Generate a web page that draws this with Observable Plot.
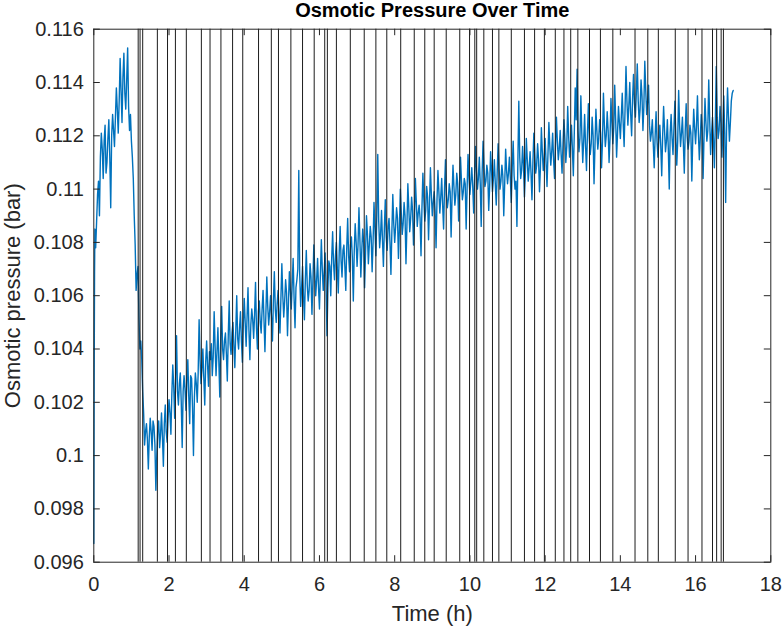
<!DOCTYPE html>
<html>
<head>
<meta charset="utf-8">
<script src="https://cdn.jsdelivr.net/npm/d3@7"></script>
<script src="https://cdn.jsdelivr.net/npm/@observablehq/plot@0.6"></script>
<style>
  html, body { margin: 0; padding: 0; background: #ffffff; }
  svg { display: block; }
</style>
</head>
<body>
<div id="chart"></div>
<script>
// Time samples (h)
const hours = [
  0, 0.01, 0.02, 0.03, 0.05, 0.075, 0.1, 0.125, 0.15, 0.175, 0.2, 0.225, 0.25, 0.275, 0.3, 0.325, 0.35, 0.375, 0.4, 0.425, 0.45, 0.475, 0.5, 0.525, 0.55, 0.575, 0.6, 0.625, 0.65, 0.675, 0.7, 0.725, 0.75, 0.775, 0.8, 0.825, 0.85, 0.875, 0.9, 0.925, 0.95, 0.975,
  1, 1.025, 1.05, 1.075, 1.1, 1.125, 1.15, 1.175, 1.2, 1.225, 1.25, 1.275, 1.3, 1.325, 1.35, 1.375, 1.4, 1.425, 1.45, 1.475, 1.5, 1.525, 1.55, 1.575, 1.6, 1.625, 1.65, 1.675, 1.7, 1.725, 1.75, 1.775, 1.8, 1.825, 1.85, 1.875, 1.9, 1.925, 1.95, 1.975,
  2, 2.025, 2.05, 2.075, 2.1, 2.125, 2.15, 2.175, 2.2, 2.225, 2.25, 2.275, 2.3, 2.325, 2.35, 2.375, 2.4, 2.425, 2.45, 2.475, 2.5, 2.525, 2.55, 2.575, 2.6, 2.625, 2.65, 2.675, 2.7, 2.725, 2.75, 2.775, 2.8, 2.825, 2.85, 2.875, 2.9, 2.925, 2.95, 2.975,
  3, 3.025, 3.05, 3.075, 3.1, 3.125, 3.15, 3.175, 3.2, 3.225, 3.25, 3.275, 3.3, 3.325, 3.35, 3.375, 3.4, 3.425, 3.45, 3.475, 3.5, 3.525, 3.55, 3.575, 3.6, 3.625, 3.65, 3.675, 3.7, 3.725, 3.75, 3.775, 3.8, 3.825, 3.85, 3.875, 3.9, 3.925, 3.95, 3.975,
  4, 4.025, 4.05, 4.075, 4.1, 4.125, 4.15, 4.175, 4.2, 4.225, 4.25, 4.275, 4.3, 4.325, 4.35, 4.375, 4.4, 4.425, 4.45, 4.475, 4.5, 4.525, 4.55, 4.575, 4.6, 4.625, 4.65, 4.675, 4.7, 4.725, 4.75, 4.775, 4.8, 4.825, 4.85, 4.875, 4.9, 4.925, 4.95, 4.975,
  5, 5.025, 5.05, 5.075, 5.1, 5.125, 5.15, 5.175, 5.2, 5.225, 5.25, 5.275, 5.3, 5.325, 5.35, 5.375, 5.4, 5.425, 5.45, 5.475, 5.5, 5.525, 5.55, 5.575, 5.6, 5.625, 5.65, 5.675, 5.7, 5.725, 5.75, 5.775, 5.8, 5.825, 5.85, 5.875, 5.9, 5.925, 5.95, 5.975,
  6, 6.025, 6.05, 6.075, 6.1, 6.125, 6.15, 6.175, 6.2, 6.225, 6.25, 6.275, 6.3, 6.325, 6.35, 6.375, 6.4, 6.425, 6.45, 6.475, 6.5, 6.525, 6.55, 6.575, 6.6, 6.625, 6.65, 6.675, 6.7, 6.725, 6.75, 6.775, 6.8, 6.825, 6.85, 6.875, 6.9, 6.925, 6.95, 6.975,
  7, 7.025, 7.05, 7.075, 7.1, 7.125, 7.15, 7.175, 7.2, 7.225, 7.25, 7.275, 7.3, 7.325, 7.35, 7.375, 7.4, 7.425, 7.45, 7.475, 7.5, 7.525, 7.55, 7.575, 7.6, 7.625, 7.65, 7.675, 7.7, 7.725, 7.75, 7.775, 7.8, 7.825, 7.85, 7.875, 7.9, 7.925, 7.95, 7.975,
  8, 8.025, 8.05, 8.075, 8.1, 8.125, 8.15, 8.175, 8.2, 8.225, 8.25, 8.275, 8.3, 8.325, 8.35, 8.375, 8.4, 8.425, 8.45, 8.475, 8.5, 8.525, 8.55, 8.575, 8.6, 8.625, 8.65, 8.675, 8.7, 8.725, 8.75, 8.775, 8.8, 8.825, 8.85, 8.875, 8.9, 8.925, 8.95, 8.975,
  9, 9.025, 9.05, 9.075, 9.1, 9.125, 9.15, 9.175, 9.2, 9.225, 9.25, 9.275, 9.3, 9.325, 9.35, 9.375, 9.4, 9.425, 9.45, 9.475, 9.5, 9.525, 9.55, 9.575, 9.6, 9.625, 9.65, 9.675, 9.7, 9.725, 9.75, 9.775, 9.8, 9.825, 9.85, 9.875, 9.9, 9.925, 9.95, 9.975,
  10, 10.025, 10.05, 10.075, 10.1, 10.125, 10.15, 10.175, 10.2, 10.225, 10.25, 10.275, 10.3, 10.325, 10.35, 10.375, 10.4, 10.425, 10.45, 10.475, 10.5, 10.525, 10.55, 10.575, 10.6, 10.625, 10.65, 10.675, 10.7, 10.725, 10.75, 10.775, 10.8, 10.825, 10.85, 10.875, 10.9, 10.925, 10.95, 10.975,
  11, 11.025, 11.05, 11.075, 11.1, 11.125, 11.15, 11.175, 11.2, 11.225, 11.25, 11.275, 11.3, 11.325, 11.35, 11.375, 11.4, 11.425, 11.45, 11.475, 11.5, 11.525, 11.55, 11.575, 11.6, 11.625, 11.65, 11.675, 11.7, 11.725, 11.75, 11.775, 11.8, 11.825, 11.85, 11.875, 11.9, 11.925, 11.95, 11.975,
  12, 12.025, 12.05, 12.075, 12.1, 12.125, 12.15, 12.175, 12.2, 12.225, 12.25, 12.275, 12.3, 12.325, 12.35, 12.375, 12.4, 12.425, 12.45, 12.475, 12.5, 12.525, 12.55, 12.575, 12.6, 12.625, 12.65, 12.675, 12.7, 12.725, 12.75, 12.775, 12.8, 12.825, 12.85, 12.875, 12.9, 12.925, 12.95, 12.975,
  13, 13.025, 13.05, 13.075, 13.1, 13.125, 13.15, 13.175, 13.2, 13.225, 13.25, 13.275, 13.3, 13.325, 13.35, 13.375, 13.4, 13.425, 13.45, 13.475, 13.5, 13.525, 13.55, 13.575, 13.6, 13.625, 13.65, 13.675, 13.7, 13.725, 13.75, 13.775, 13.8, 13.825, 13.85, 13.875, 13.9, 13.925, 13.95, 13.975,
  14, 14.025, 14.05, 14.075, 14.1, 14.125, 14.15, 14.175, 14.2, 14.225, 14.25, 14.275, 14.3, 14.325, 14.35, 14.375, 14.4, 14.425, 14.45, 14.475, 14.5, 14.525, 14.55, 14.575, 14.6, 14.625, 14.65, 14.675, 14.7, 14.725, 14.75, 14.775, 14.8, 14.825, 14.85, 14.875, 14.9, 14.925, 14.95, 14.975,
  15, 15.025, 15.05, 15.075, 15.1, 15.125, 15.15, 15.175, 15.2, 15.225, 15.25, 15.275, 15.3, 15.325, 15.35, 15.375, 15.4, 15.425, 15.45, 15.475, 15.5, 15.525, 15.55, 15.575, 15.6, 15.625, 15.65, 15.675, 15.7, 15.725, 15.75, 15.775, 15.8, 15.825, 15.85, 15.875, 15.9, 15.925, 15.95, 15.975,
  16, 16.025, 16.05, 16.075, 16.1, 16.125, 16.15, 16.175, 16.2, 16.225, 16.25, 16.275, 16.3, 16.325, 16.35, 16.375, 16.4, 16.425, 16.45, 16.475, 16.5, 16.525, 16.55, 16.575, 16.6, 16.625, 16.65, 16.675, 16.7, 16.725, 16.75, 16.775, 16.8, 16.825, 16.85, 16.875, 16.9, 16.925, 16.95, 16.975,
  17
];

// Osmotic pressure (bar)
const pressure = [
  0.0967, 0.1030, 0.1069, 0.1085,
  0.1078, 0.1088, 0.1098, 0.1103, 0.1090, 0.1112, 0.1121, 0.1115, 0.1104, 0.1118, 0.1124, 0.1106, 0.1110, 0.1119, 0.1126, 0.1112, 0.1093, 0.1120, 0.1128,
  0.1122, 0.1116, 0.1127, 0.1138, 0.1130, 0.1121, 0.1133, 0.1149, 0.1137, 0.1125, 0.1142, 0.1151, 0.1136, 0.1130, 0.1141, 0.1153, 0.1131, 0.1122, 0.1128,
  // 1 h
  0.1118, 0.1112, 0.1104, 0.1090, 0.1079, 0.1062, 0.1068, 0.1071, 0.1052, 0.1040, 0.1043, 0.1036, 0.1024, 0.1016, 0.1004, 0.1009, 0.1012, 0.1006, 0.0995, 0.1007,
  0.1014, 0.1009, 0.1002, 0.1013, 0.1011, 0.1004, 0.0987, 0.1000, 0.1010, 0.1013, 0.1003, 0.1008, 0.1016, 0.1007, 0.0996, 0.1012, 0.1019, 0.1009, 0.1005, 0.1014,
  // 2 h
  0.1021, 0.1016, 0.1008, 0.1023, 0.1034, 0.1026, 0.1014, 0.1028, 0.1045, 0.1024, 0.1019, 0.1027, 0.1031, 0.1020, 0.1003, 0.1024, 0.1030, 0.1025, 0.1017, 0.1028,
  0.1036, 0.1022, 0.1012, 0.1030, 0.1029, 0.1018, 0.1000, 0.1022, 0.1031, 0.1027, 0.1020, 0.1031, 0.1051, 0.1036, 0.1027, 0.1032, 0.1040, 0.1029, 0.1019, 0.1035,
  // 3 h
  0.1043, 0.1034, 0.1026, 0.1039, 0.1036, 0.1042, 0.1030, 0.1037, 0.1054, 0.1041, 0.1030, 0.1039, 0.1048, 0.1035, 0.1022, 0.1044, 0.1056, 0.1040, 0.1036, 0.1043,
  0.1046, 0.1038, 0.1028, 0.1045, 0.1058, 0.1042, 0.1038, 0.1046, 0.1050, 0.1041, 0.1033, 0.1047, 0.1060, 0.1044, 0.1040, 0.1048, 0.1054, 0.1043, 0.1035, 0.1049,
  // 4 h
  0.1059, 0.1050, 0.1041, 0.1052, 0.1063, 0.1047, 0.1036, 0.1049, 0.1055, 0.1051, 0.1044, 0.1053, 0.1065, 0.1048, 0.1040, 0.1054, 0.1058, 0.1050, 0.1046, 0.1055,
  0.1062, 0.1051, 0.1039, 0.1053, 0.1067, 0.1056, 0.1049, 0.1054, 0.1060, 0.1052, 0.1043, 0.1058, 0.1069, 0.1055, 0.1050, 0.1057, 0.1062, 0.1053, 0.1046, 0.1059,
  // 5 h
  0.1072, 0.1060, 0.1052, 0.1058, 0.1066, 0.1061, 0.1045, 0.1057, 0.1069, 0.1062, 0.1055, 0.1064, 0.1074, 0.1059, 0.1048, 0.1063, 0.1066, 0.1070, 0.1107, 0.1068,
  0.1056, 0.1063, 0.1071, 0.1060, 0.1051, 0.1066, 0.1077, 0.1064, 0.1058, 0.1062, 0.1072, 0.1067, 0.1053, 0.1065, 0.1079, 0.1069, 0.1060, 0.1066, 0.1074, 0.1063,
  // 6 h
  0.1055, 0.1068, 0.1081, 0.1070, 0.1062, 0.1069, 0.1076, 0.1065, 0.1045, 0.1063, 0.1073, 0.1071, 0.1060, 0.1074, 0.1084, 0.1072, 0.1066, 0.1075, 0.1080, 0.1070,
  0.1061, 0.1076, 0.1086, 0.1073, 0.1067, 0.1077, 0.1079, 0.1071, 0.1062, 0.1078, 0.1089, 0.1075, 0.1069, 0.1079, 0.1082, 0.1074, 0.1058, 0.1077, 0.1087, 0.1080,
  // 7 h
  0.1071, 0.1079, 0.1093, 0.1081, 0.1067, 0.1077, 0.1085, 0.1080, 0.1063, 0.1076, 0.1090, 0.1083, 0.1072, 0.1079, 0.1086, 0.1082, 0.1069, 0.1080, 0.1095, 0.1085,
  0.1075, 0.1090, 0.1113, 0.1088, 0.1078, 0.1083, 0.1092, 0.1081, 0.1071, 0.1085, 0.1096, 0.1082, 0.1077, 0.1086, 0.1089, 0.1080, 0.1068, 0.1084, 0.1098, 0.1087,
  // 8 h
  0.1080, 0.1086, 0.1093, 0.1089, 0.1074, 0.1085, 0.1100, 0.1091, 0.1083, 0.1087, 0.1095, 0.1090, 0.1072, 0.1086, 0.1102, 0.1093, 0.1084, 0.1089, 0.1097, 0.1092,
  0.1079, 0.1088, 0.1104, 0.1095, 0.1086, 0.1091, 0.1094, 0.1089, 0.1075, 0.1093, 0.1106, 0.1096, 0.1088, 0.1092, 0.1101, 0.1097, 0.1081, 0.1094, 0.1108, 0.1098,
  // 9 h
  0.1090, 0.1095, 0.1099, 0.1092, 0.1078, 0.1096, 0.1107, 0.1099, 0.1091, 0.1097, 0.1104, 0.1094, 0.1085, 0.1100, 0.1111, 0.1098, 0.1093, 0.1096, 0.1102, 0.1099,
  0.1082, 0.1097, 0.1109, 0.1101, 0.1094, 0.1098, 0.1106, 0.1102, 0.1088, 0.1100, 0.1112, 0.1103, 0.1096, 0.1099, 0.1104, 0.1102, 0.1085, 0.1100, 0.1113, 0.1104,
  // 10 h
  0.1098, 0.1103, 0.1108, 0.1101, 0.1091, 0.1105, 0.1116, 0.1107, 0.1100, 0.1104, 0.1112, 0.1102, 0.1086, 0.1106, 0.1118, 0.1108, 0.1101, 0.1103, 0.1109, 0.1106,
  0.1092, 0.1101, 0.1114, 0.1107, 0.1099, 0.1104, 0.1111, 0.1102, 0.1094, 0.1106, 0.1117, 0.1108, 0.1100, 0.1103, 0.1109, 0.1105, 0.1090, 0.1102, 0.1115, 0.1107,
  // 11 h
  0.1102, 0.1106, 0.1112, 0.1104, 0.1095, 0.1108, 0.1118, 0.1105, 0.1100, 0.1103, 0.1086, 0.1110, 0.1133, 0.1112, 0.1104, 0.1107, 0.1116, 0.1109, 0.1097, 0.1106,
  0.1119, 0.1111, 0.1103, 0.1108, 0.1114, 0.1106, 0.1096, 0.1110, 0.1121, 0.1113, 0.1106, 0.1109, 0.1117, 0.1111, 0.1099, 0.1108, 0.1123, 0.1114, 0.1107, 0.1112,
  // 12 h
  0.1119, 0.1110, 0.1101, 0.1113, 0.1125, 0.1116, 0.1109, 0.1114, 0.1121, 0.1111, 0.1104, 0.1116, 0.1127, 0.1118, 0.1111, 0.1115, 0.1122, 0.1113, 0.1106, 0.1117,
  0.1126, 0.1119, 0.1110, 0.1116, 0.1131, 0.1120, 0.1112, 0.1117, 0.1124, 0.1115, 0.1105, 0.1121, 0.1138, 0.1126, 0.1145, 0.1122, 0.1114, 0.1119, 0.1135, 0.1121,
  // 13 h
  0.1110, 0.1118, 0.1128, 0.1116, 0.1107, 0.1121, 0.1132, 0.1119, 0.1113, 0.1117, 0.1127, 0.1120, 0.1102, 0.1116, 0.1130, 0.1122, 0.1115, 0.1119, 0.1126, 0.1121,
  0.1108, 0.1118, 0.1136, 0.1124, 0.1116, 0.1120, 0.1129, 0.1122, 0.1110, 0.1119, 0.1134, 0.1125, 0.1117, 0.1123, 0.1139, 0.1126, 0.1112, 0.1121, 0.1131, 0.1125,
  // 14 h
  0.1119, 0.1127, 0.1136, 0.1125, 0.1116, 0.1130, 0.1146, 0.1133, 0.1124, 0.1131, 0.1140, 0.1128, 0.1120, 0.1134, 0.1143, 0.1132, 0.1127, 0.1136, 0.1147, 0.1133,
  0.1125, 0.1130, 0.1141, 0.1135, 0.1122, 0.1131, 0.1148, 0.1137, 0.1128, 0.1133, 0.1139, 0.1124, 0.1118, 0.1121, 0.1126, 0.1117, 0.1108, 0.1120, 0.1129, 0.1118,
  // 15 h
  0.1112, 0.1119, 0.1124, 0.1116, 0.1105, 0.1120, 0.1131, 0.1122, 0.1114, 0.1118, 0.1126, 0.1115, 0.1100, 0.1121, 0.1128, 0.1119, 0.1113, 0.1123, 0.1133, 0.1120,
  0.1109, 0.1118, 0.1137, 0.1124, 0.1116, 0.1121, 0.1127, 0.1117, 0.1106, 0.1122, 0.1132, 0.1120, 0.1115, 0.1118, 0.1124, 0.1121, 0.1103, 0.1119, 0.1130, 0.1123,
  // 16 h
  0.1117, 0.1124, 0.1135, 0.1121, 0.1111, 0.1119, 0.1128, 0.1123, 0.1104, 0.1120, 0.1134, 0.1125, 0.1118, 0.1122, 0.1141, 0.1126, 0.1113, 0.1121, 0.1127, 0.1119,
  0.1108, 0.1124, 0.1146, 0.1127, 0.1119, 0.1122, 0.1131, 0.1125, 0.1112, 0.1123, 0.1135, 0.1121, 0.1095, 0.1124, 0.1138, 0.1127, 0.1118, 0.1125, 0.1133, 0.1136,
  // 17 h
  0.1137
];

// Event markers (vertical lines, h)
const events = [
  1.18, 1.23, 1.30, 1.69, 1.96, 2.17, 2.46, 2.86, 3.09, 3.38, 3.69, 3.96, 4.38, 4.72, 4.91,
  5.24, 5.55, 5.86, 6.14, 6.21, 6.45, 6.82, 7.19, 7.50, 7.79, 8.16, 8.52, 8.80, 9.05, 9.37,
  9.73, 9.99, 10.13, 10.18, 10.37, 10.60, 10.77, 11.10, 11.45, 11.72, 11.98, 12.27, 12.50,
  12.68, 12.87, 13.18, 13.47, 13.80, 14.39, 14.73, 15.01, 15.46, 15.80, 16.17, 16.45, 16.56,
  16.68, 16.74
];

const xTicks = [0, 2, 4, 6, 8, 10, 12, 14, 16, 18];
const yTicks = [0.096, 0.098, 0.1, 0.102, 0.104, 0.106, 0.108, 0.11, 0.112, 0.114, 0.116];
const yTickLabels = ["0.096", "0.098", "0.1", "0.102", "0.104", "0.106", "0.108", "0.11", "0.112", "0.114", "0.116"];

const titleText = "Osmotic Pressure Over Time";
const xLabelText = "Time (h)";
const yLabelText = "Osmotic pressure (bar)";

const n = Math.min(hours.length, pressure.length);
const data = hours.slice(0, n).map((h, i) => ({h, p: pressure[i]}));

const W = 784, H = 630;
const mL = 93.3, mR = 13.7, mT = 28.7, mB = 68.3;
const innerW = W - mL - mR, innerH = H - mT - mB;
const tickLen = 6.5;
const axisColor = "#262626";

const chart = Plot.plot({
  width: W,
  height: H,
  marginLeft: mL,
  marginRight: mR,
  marginTop: mT,
  marginBottom: mB,
  style: {fontFamily: "'Liberation Sans', Arial, Helvetica, sans-serif", fontSize: "20px", color: axisColor, background: "#ffffff", overflow: "visible"},
  x: {domain: [0, 18]},
  y: {domain: [0.096, 0.116]},
  marks: [
    Plot.lineY(data, {x: "h", y: "p", stroke: "#0072BD", strokeWidth: 1.4, strokeLinejoin: "round"}),
    Plot.ruleX(events, {stroke: "#1c1c1c", strokeWidth: 1}),
    Plot.ruleX(xTicks, {insetTop: innerH - tickLen, stroke: axisColor}),
    Plot.ruleX(xTicks, {insetBottom: innerH - tickLen, stroke: axisColor}),
    Plot.ruleY(yTicks, {insetRight: innerW - tickLen, stroke: axisColor}),
    Plot.ruleY(yTicks, {insetLeft: innerW - tickLen, stroke: axisColor}),
    Plot.axisX(xTicks, {tickSize: 0, tickPadding: 15, fontSize: 20, fill: axisColor, label: null}),
    Plot.axisY(yTicks, {tickSize: 0, tickPadding: 10, fontSize: 20, fill: axisColor, label: null,
      tickFormat: d => yTickLabels[yTicks.indexOf(d)]}),
    Plot.frame({stroke: axisColor, strokeWidth: 1}),
    Plot.text([titleText], {frameAnchor: "top", dy: -18.5, fontSize: 20, fontWeight: "bold", fill: "#000000", textAnchor: "middle", lineAnchor: "middle"}),
    Plot.text([xLabelText], {frameAnchor: "bottom", dy: 52, fontSize: 22, fill: axisColor, textAnchor: "middle", lineAnchor: "middle"}),
    Plot.text([yLabelText], {frameAnchor: "left", dx: -81, rotate: -90, fontSize: 22, fill: axisColor, textAnchor: "middle", lineAnchor: "middle"})
  ]
});

document.getElementById("chart").appendChild(chart);
</script>
</body>
</html>
